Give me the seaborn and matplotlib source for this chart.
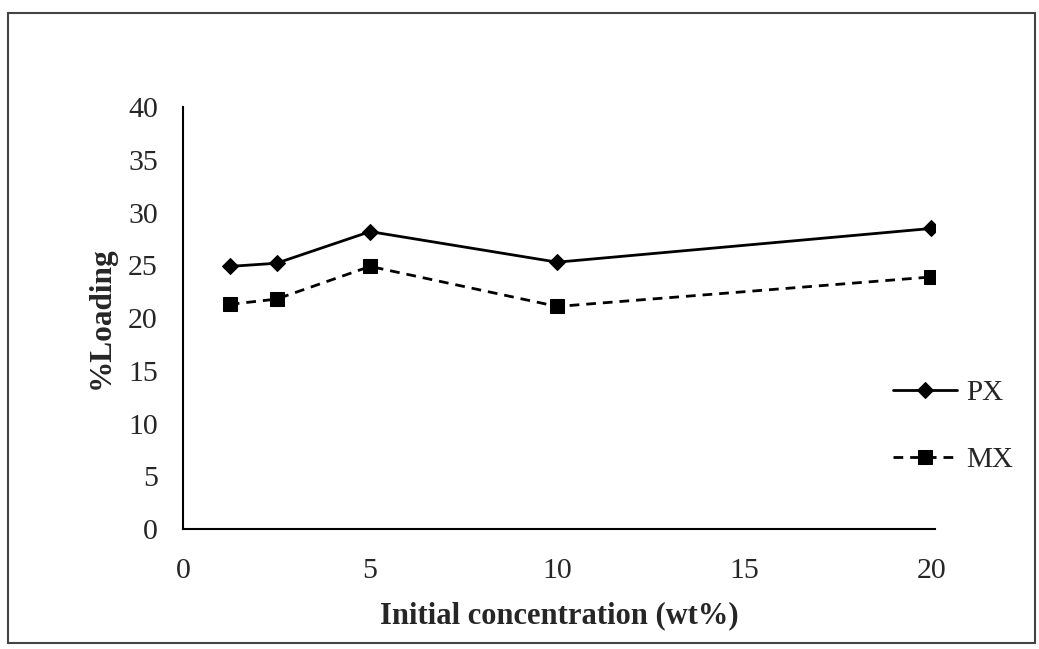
import matplotlib
matplotlib.use("Agg")
import matplotlib.pyplot as plt
from matplotlib.patches import Rectangle
import seaborn as sns
import pandas as pd

# initial concentration (wt%)
conc = [1.25, 2.5, 5, 10, 20]
px_loading = [24.9, 25.2, 28.2, 25.3, 28.5]
mx_loading = [21.3, 21.8, 24.9, 21.1, 23.9]
x_ticks = [0, 5, 10, 15, 20]
y_ticks = [0, 5, 10, 15, 20, 25, 30, 35, 40]

df = pd.DataFrame({
    "conc": conc * 2,
    "loading": px_loading + mx_loading,
    "series": ["PX"] * len(conc) + ["MX"] * len(conc),
})

sns.set_style("white")
plt.rcParams["font.family"] = ["Liberation Serif", "DejaVu Serif"]

fig = plt.figure(figsize=(10.39, 6.49), dpi=100)
ax = fig.add_axes([0.1761, 0.1849, 0.724, 0.650])

sns.lineplot(data=df[df.series == "PX"], x="conc", y="loading", ax=ax,
             color="black", marker="D", markersize=8, linewidth=2,
             markeredgecolor="black", label="PX")
sns.lineplot(data=df[df.series == "MX"], x="conc", y="loading", ax=ax,
             color="black", marker="s", markersize=10, linewidth=2,
             linestyle=(0, (3.5, 2.5)), markeredgecolor="black", label="MX")

ax.set_xlim(0, 20.1)
ax.set_ylim(0, 40)
ax.set_xticks(x_ticks)
ax.set_yticks(y_ticks)
ax.tick_params(length=0, labelsize=21.5)
ax.tick_params(axis="x", pad=21)
ax.tick_params(axis="y", pad=18)
for s in ["top", "right"]:
    ax.spines[s].set_visible(False)
for s in ["left", "bottom"]:
    ax.spines[s].set_color("black")
    ax.spines[s].set_linewidth(1.5)

ax.set_xlabel("Initial concentration (wt%)", fontsize=22, fontweight="bold", labelpad=12)
ax.set_ylabel("%Loading", fontsize=22.5, fontweight="bold", labelpad=9)

ax.legend(loc="upper left", bbox_to_anchor=(0.8595, 0.415),
          bbox_transform=fig.transFigure, frameon=False,
          fontsize=21, handlelength=2.2, handletextpad=0.3, labelspacing=1.4,
          borderaxespad=0, borderpad=0)

# frame round the whole chart
fig.patches.append(Rectangle((0.008, 0.01), 0.988, 0.970, transform=fig.transFigure,
                             fill=False, edgecolor="#444444", linewidth=1.5))

fig.savefig("out.png", dpi=100)
